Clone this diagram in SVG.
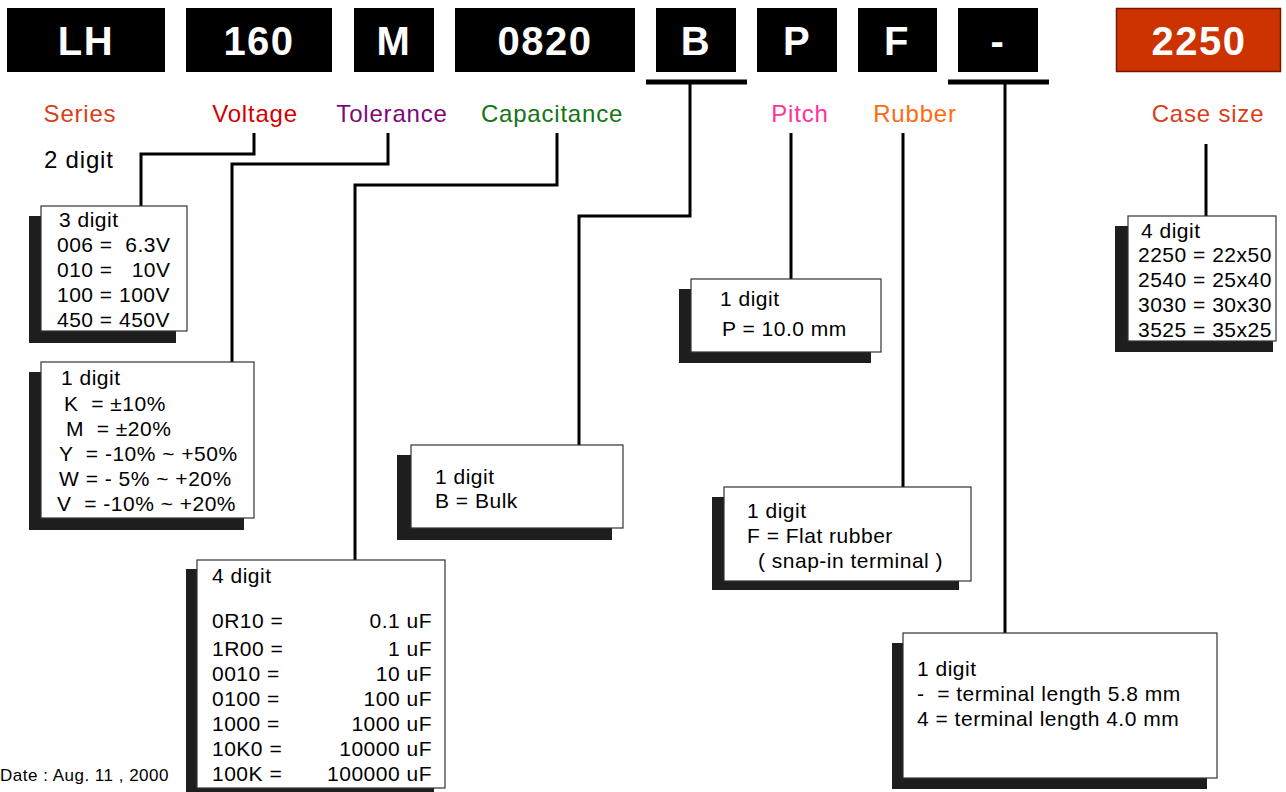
<svg xmlns="http://www.w3.org/2000/svg" width="1286" height="792" viewBox="0 0 1286 792">
<style>
.code{fill:#000}
.codet{font-family:"Liberation Sans",Arial,sans-serif;font-weight:bold;font-size:40px;fill:#fff;text-anchor:middle;letter-spacing:1.5px}
.lbl{font-family:"Liberation Sans",Arial,sans-serif;font-size:24px;letter-spacing:0.8px;text-anchor:middle}
.t{font-family:"Liberation Sans",Arial,sans-serif;font-size:21px;fill:#000;letter-spacing:0.5px;white-space:pre}
.r{text-anchor:end}
.box{fill:#fff;stroke:#333;stroke-width:1.2}
.sh{fill:#1e1e1e}
.conn{fill:none;stroke:#000;stroke-width:3}
.bar{fill:none;stroke:#000;stroke-width:5}
</style>
<rect width="1286" height="792" fill="#fff"/>

<g id="code-LH"><rect class="code" x="7" y="8" width="158" height="64"/><text class="codet" x="86" y="55">LH</text></g>
<g id="code-160"><rect class="code" x="186" y="8" width="146" height="64"/><text class="codet" x="259" y="55">160</text></g>
<g id="code-M"><rect class="code" x="354" y="8" width="80" height="64"/><text class="codet" x="394" y="55">M</text></g>
<g id="code-0820"><rect class="code" x="455" y="8" width="180" height="64"/><text class="codet" x="545" y="55">0820</text></g>
<g id="code-B"><rect class="code" x="656" y="8" width="80" height="64"/><text class="codet" x="696" y="55">B</text></g>
<g id="code-P"><rect class="code" x="757" y="8" width="80" height="64"/><text class="codet" x="797" y="55">P</text></g>
<g id="code-F"><rect class="code" x="858" y="8" width="79" height="64"/><text class="codet" x="897" y="55">F</text></g>
<g id="code-dash"><rect class="code" x="958" y="8" width="80" height="64"/><text class="codet" x="998" y="55">-</text></g>
<g id="code-2250"><rect x="1116.5" y="8.5" width="164" height="63" fill="#cc3300" stroke="#6b1a00" stroke-width="1.5"/><text class="codet" x="1199" y="55">2250</text></g>

<g id="labels">
<text class="lbl" x="80" y="122" fill="#d9401a">Series</text>
<text class="lbl" x="255" y="122" fill="#d40000">Voltage</text>
<text class="lbl" x="392" y="122" fill="#7a0a7a">Tolerance</text>
<text class="lbl" x="552" y="122" fill="#137513">Capacitance</text>
<text class="lbl" x="800" y="122" fill="#ff3399">Pitch</text>
<text class="lbl" x="915" y="122" fill="#ff6a10">Rubber</text>
<text class="lbl" x="1208" y="122" fill="#d9401a">Case size</text>
<text class="lbl" x="44" y="168" fill="#000" style="text-anchor:start">2 digit</text>
</g>

<g id="connectors">
<polyline class="conn" points="254,133 254,154 141,154 141,206"/>
<polyline class="conn" points="388,133 388,164 232,164 232,362"/>
<polyline class="conn" points="557,133 557,185 355,185 355,560"/>
<line class="bar" x1="646" y1="82" x2="747" y2="82"/>
<polyline class="conn" points="690,82 690,216 579,216 579,445"/>
<line class="conn" x1="791" y1="133" x2="791" y2="279"/>
<line class="conn" x1="903" y1="133" x2="903" y2="487"/>
<line class="bar" x1="948" y1="82" x2="1049" y2="82"/>
<line class="conn" x1="1005" y1="82" x2="1005" y2="633"/>
<line class="conn" x1="1206" y1="144" x2="1206" y2="216"/>
</g>

<g id="voltage-box">
<rect class="sh" x="29" y="216" width="147" height="127"/>
<rect class="box" x="41" y="206" width="146" height="125"/>
<text class="t" x="59" y="227">3 digit</text>
<text class="t" x="57" y="252">006 =  6.3V</text>
<text class="t" x="57" y="277">010 =   10V</text>
<text class="t" x="57" y="302">100 = 100V</text>
<text class="t" x="57" y="327">450 = 450V</text>
</g>

<g id="tolerance-box">
<rect class="sh" x="29" y="372" width="215" height="158"/>
<rect class="box" x="41" y="362" width="213" height="156"/>
<text class="t" x="61" y="385">1 digit</text>
<text class="t" x="64" y="411">K  = ±10%</text>
<text class="t" x="66" y="436">M  = ±20%</text>
<text class="t" x="59" y="461">Y  = -10% ~ +50%</text>
<text class="t" x="59" y="486">W = - 5% ~ +20%</text>
<text class="t" x="57" y="511">V  = -10% ~ +20%</text>
</g>

<g id="capacitance-box">
<rect class="sh" x="186" y="569" width="248" height="223"/>
<rect class="box" x="197" y="560" width="248" height="228"/>
<text class="t" x="212" y="583">4 digit</text>
<text class="t" x="212" y="628">0R10 =</text><text class="t r" x="432" y="628">0.1 uF</text>
<text class="t" x="212" y="656">1R00 =</text><text class="t r" x="432" y="656">1 uF</text>
<text class="t" x="212" y="681">0010 =</text><text class="t r" x="432" y="681">10 uF</text>
<text class="t" x="212" y="706">0100 =</text><text class="t r" x="432" y="706">100 uF</text>
<text class="t" x="212" y="731">1000 =</text><text class="t r" x="432" y="731">1000 uF</text>
<text class="t" x="212" y="756">10K0 =</text><text class="t r" x="432" y="756">10000 uF</text>
<text class="t" x="212" y="781">100K =</text><text class="t r" x="432" y="781">100000 uF</text>
</g>

<g id="bulk-box">
<rect class="sh" x="397" y="455" width="215" height="85"/>
<rect class="box" x="411" y="445" width="212" height="83"/>
<text class="t" x="435" y="484">1 digit</text>
<text class="t" x="435" y="508">B = Bulk</text>
</g>

<g id="pitch-box">
<rect class="sh" x="679" y="289" width="192" height="74"/>
<rect class="box" x="691" y="279" width="190" height="73"/>
<text class="t" x="720" y="306">1 digit</text>
<text class="t" x="722" y="336">P = 10.0 mm</text>
</g>

<g id="rubber-box">
<rect class="sh" x="712" y="497" width="247" height="93"/>
<rect class="box" x="724" y="487" width="247" height="94"/>
<text class="t" x="747" y="518">1 digit</text>
<text class="t" x="747" y="543">F = Flat rubber</text>
<text class="t" x="758" y="568">( snap-in terminal )</text>
</g>

<g id="terminal-box">
<rect class="sh" x="892" y="643" width="315" height="146"/>
<rect class="box" x="903" y="633" width="314" height="145"/>
<text class="t" x="917" y="676">1 digit</text>
<text class="t" x="917" y="701">-  = terminal length 5.8 mm</text>
<text class="t" x="917" y="726">4 = terminal length 4.0 mm</text>
</g>

<g id="casesize-box">
<rect class="sh" x="1115" y="226" width="158" height="126"/>
<rect class="box" x="1128" y="216" width="148" height="125"/>
<text class="t" x="1141" y="238">4 digit</text>
<text class="t" x="1138" y="262">2250 = 22x50</text>
<text class="t" x="1138" y="287">2540 = 25x40</text>
<text class="t" x="1138" y="312">3030 = 30x30</text>
<text class="t" x="1138" y="337">3525 = 35x25</text>
</g>

<g id="date">
<text class="t" x="0" y="781" style="font-size:17px">Date : Aug. 11 , 2000</text>
</g>
</svg>
